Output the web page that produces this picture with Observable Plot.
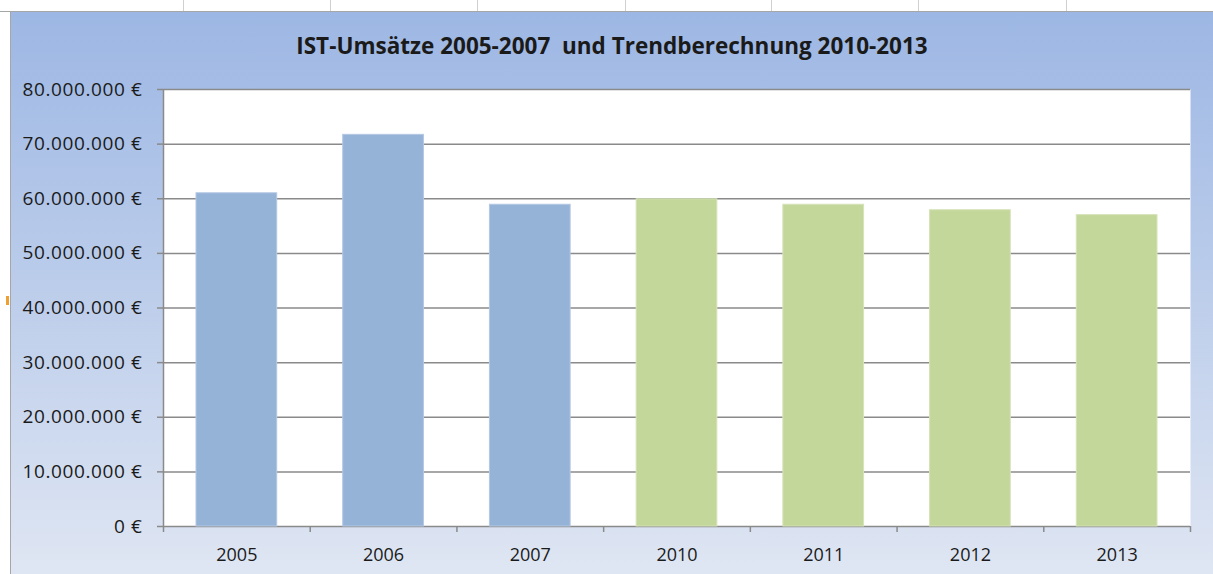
<!DOCTYPE html>
<html>
<head>
<meta charset="utf-8">
<script src="https://cdn.jsdelivr.net/npm/d3@7"></script>
<script src="https://cdn.jsdelivr.net/npm/@observablehq/plot@0.6"></script>
<style>
  html, body { margin: 0; padding: 0; background: #ffffff; }
  body { width: 1213px; height: 574px; position: relative; overflow: hidden; font-family: "Open Sans", sans-serif; }
  #sheet { position: absolute; left: 0; top: 0; width: 1213px; height: 12px; border-bottom: 1px solid #a6a6a6; box-sizing: border-box; }
  .cell { position: absolute; top: 0; width: 1px; height: 11px; background: #d0d0d0; }
  #leftcol { position: absolute; left: 10px; top: 12px; width: 1px; height: 562px; background: #a6a6a6; }
  #mark { position: absolute; left: 6px; top: 296px; width: 3px; height: 9px; background: #f0a030; }
  #chart { position: absolute; left: 11px; top: 12px; width: 1202px; height: 562px;
           background: linear-gradient(180deg, #9db7e4 0%, #b9cbea 45%, #dfe6f3 100%); }
  #title { height: 58px; line-height: 68px; text-align: center; font-weight: bold; font-size: 22.5px; color: #1a1a1a; white-space: pre; }
  .ylab text { letter-spacing: 0.6px; }
</style>
</head>
<body>
<div id="sheet"></div>
<div id="leftcol"></div>
<div id="mark"></div>
<div id="chart">
  <div id="title">IST-Umsätze 2005-2007  und Trendberechnung 2010-2013</div>
  <div id="plot"></div>
</div>
<script>
// ---- data ----
const years = ["2005", "2006", "2007", "2010", "2011", "2012", "2013"];
const revenue = [61000000, 71700000, 58900000, 59900000, 58900000, 57900000, 57000000];
const kinds = ["IST", "IST", "IST", "Trend", "Trend", "Trend", "Trend"];
const yTicks = [0, 10000000, 20000000, 30000000, 40000000, 50000000, 60000000, 70000000, 80000000];
const sheetLines = [183, 330, 477, 625, 771, 918, 1066];

// spreadsheet column lines (decoration)
const sheet = document.getElementById("sheet");
sheetLines.forEach(x => {
  const d = document.createElement("div");
  d.className = "cell"; d.style.left = x + "px"; sheet.appendChild(d);
});

const data = years.map((year, i) => ({i, year, value: revenue[i], kind: kinds[i]}));

const de = d3.formatLocale({decimal: ",", thousands: ".", grouping: [3], currency: ["", " €"]});
const fmt = v => de.format(",.0f")(v) + " €";

const chart = Plot.plot({
  width: 1202,
  height: 504,
  marginLeft: 152,
  marginRight: 23,
  marginTop: 19,
  marginBottom: 48,
  style: {background: "transparent", fontFamily: "Open Sans", fontSize: "18px", color: "#1a1a1a", overflow: "visible"},
  x: {domain: [0, years.length], axis: null},
  y: {domain: [0, 80000000], axis: null},
  color: {domain: ["IST", "Trend"], range: ["#95b3d7", "#c4d79b"]},
  marks: [
    Plot.frame({fill: "white", stroke: null}),
    Plot.ruleY(yTicks, {stroke: "#8a8a8a", strokeWidth: 1.5}),
    Plot.rectY(data, {x1: "i", x2: d => d.i + 1, y: "value", fill: "kind", stroke: d => d.kind === "IST" ? "#b3c8e3" : "#d5e3b8", strokeWidth: 1, insetLeft: 33, insetRight: 33}),
    Plot.ruleX([0], {stroke: "#8a8a8a", strokeWidth: 1.5}),
    Plot.axisY({ticks: yTicks, tickSize: 6, tickPadding: 15, tickFormat: fmt, label: null, fontSize: 19, className: "ylab", stroke: "#8a8a8a", strokeWidth: 1.5, strokeOpacity: 1}),
    Plot.axisX({ticks: d3.range(years.length + 1), tickSize: 6, tickFormat: () => "", label: null, stroke: "#8a8a8a", strokeWidth: 1.5, strokeOpacity: 1}),
    Plot.axisX({ticks: d3.range(years.length).map(i => i + 0.5), tickSize: 0, tickPadding: 22, label: null, tickFormat: t => years[Math.floor(t)]})
  ]
});
document.getElementById("plot").appendChild(chart);
</script>
</body>
</html>
